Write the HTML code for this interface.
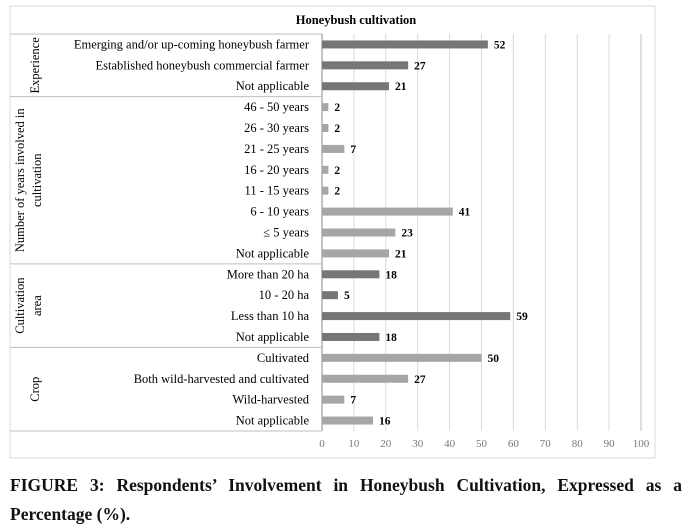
<!DOCTYPE html>
<html><head><meta charset="utf-8"><style>
body{margin:0;background:#fff;width:691px;height:529px;overflow:hidden;font-family:"Liberation Serif",serif}
#cap{position:absolute;left:10px;top:471px;width:672px;font-weight:bold;font-size:17.5px;line-height:29px;text-align:justify;text-align-last:left;color:#111}
</style></head><body>
<svg id="chart" width="691" height="470" style="position:absolute;left:0;top:0" font-family="Liberation Serif, serif"></svg>
<div id="cap">FIGURE 3: Respondents’ Involvement in Honeybush Cultivation, Expressed as a Percentage (%).</div>
<script>
const categories=["Emerging and/or up-coming honeybush farmer","Established honeybush commercial farmer","Not applicable","46 - 50 years","26 - 30 years","21 - 25 years","16 - 20 years","11 - 15 years","6 - 10 years","≤ 5 years","Not applicable","More than 20 ha","10 - 20 ha","Less than 10 ha","Not applicable","Cultivated","Both wild-harvested and cultivated","Wild-harvested","Not applicable"];
const values=[52,27,21,2,2,7,2,2,41,23,21,18,5,59,18,50,27,7,16];
const groups=["Experience","Number of years involved in|cultivation","Cultivation|area","Crop"];
const groupSizes=[3,8,4,4];
const ticks=[0,10,20,30,40,50,60,70,80,90,100];
const svg=document.getElementById('chart');const NS='http://www.w3.org/2000/svg';
function mk(t,a,txt){const e=document.createElementNS(NS,t);for(const k in a)e.setAttribute(k,a[k]);if(txt!==undefined)e.textContent=txt;svg.appendChild(e);return e;}
const x0=322,x1=641,plotTop=34,plotBot=431,rows=categories.length;
const xs=v=>x0+(x1-x0)*v/100;const rh=(plotBot-plotTop)/rows;const yc=i=>plotTop+rh*(i+0.5);
let e=mk('rect',{x:10,y:6,width:645,height:452,fill:'none',stroke:'#d9d9d9'});

e=mk('text',{x:356,y:24,'font-size':12.5,'font-weight':'bold','text-anchor':'middle'},'Honeybush cultivation');

ticks.forEach(t=>{let g=mk('line',{x1:xs(t),x2:xs(t),y1:plotTop,y2:plotBot,stroke:'#d9d9d9'});

let l=mk('text',{x:xs(t),y:447,'font-size':11,fill:'#777','text-anchor':'middle'},t);
});
e=mk('line',{x1:x1,x2:x1,y1:plotTop,y2:plotBot,stroke:'#bfbfbf'});
e=mk('line',{x1:10,x2:x0,y1:plotTop,y2:plotTop,stroke:'#bfbfbf'});
e=mk('line',{x1:x0,x2:x0,y1:plotTop,y2:plotBot,stroke:'#888'});
let start=0;
groupSizes.forEach((n,gi)=>{const yA=plotTop+rh*start,yB=plotTop+rh*(start+n);
const ln=mk('line',{x1:10,x2:x0,y1:yB,y2:yB,stroke:'#bfbfbf'});
const parts=groups[gi].split('|');const cy=(yA+yB)/2;
parts.forEach((p,pi)=>{const cx=parts.length===1?39:(pi===0?24:41);
const t=mk('text',{x:cx,y:cy,'font-size':12.5,'text-anchor':'middle',transform:`rotate(-90 ${cx} ${cy})`},p);
});
const dark=(gi%2===0);
for(let i=start;i<start+n;i++){
const b=mk('rect',{x:x0,y:yc(i)-4,width:xs(values[i])-x0,height:8,fill:dark?'#767676':'#a6a6a6'});

const v=mk('text',{x:xs(values[i])+6,y:yc(i)+4,'font-size':11.5,'font-weight':'bold'},values[i]);

const c=mk('text',{x:309,y:yc(i)+4,'font-size':12.5,'text-anchor':'end'},categories[i]);
}
start+=n;});
</script>
</body></html>
